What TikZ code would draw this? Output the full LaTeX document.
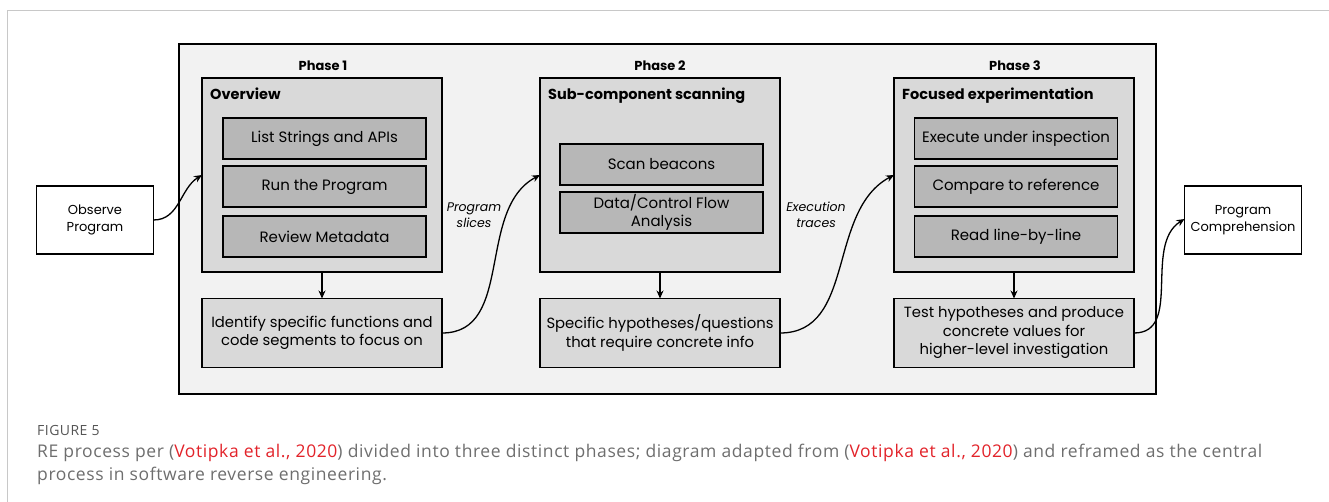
\documentclass[tikz,border=0pt]{standalone}
\usepackage{fontspec}
\setmainfont{Poppins}
\newfontfamily\capfont[LetterSpace=3.4]{Open Sans}
\usetikzlibrary{arrows.meta}
\definecolor{outerfill}{HTML}{F2F2F2}
\definecolor{phasefill}{HTML}{D9D9D9}
\definecolor{stepfill}{HTML}{B7B7B7}
\definecolor{capgray}{HTML}{6E6E6E}
\definecolor{figgray}{HTML}{555555}
\definecolor{citered}{HTML}{E2232A}
\definecolor{framegray}{HTML}{C8C8C8}
\newcommand{\citeref}[1]{(\textcolor{citered}{#1})}
\begin{document}
\begin{tikzpicture}[x=1pt,y=-1pt,
  box/.style={rectangle, draw=black, line width=1.4pt, inner sep=0pt, outer sep=0pt},
  phasebox/.style={box, fill=phasefill, minimum width=240pt, minimum height=194pt},
  stepbox/.style={box, fill=stepfill, minimum width=203pt, minimum height=41pt,
    align=center, font=\fontsize{15}{18}\selectfont},
  resultbox/.style={box, fill=phasefill, minimum width=240pt, minimum height=69pt,
    align=center, font=\fontsize{14.8}{18.5}\selectfont},
  endbox/.style={box, fill=white, minimum width=117pt, minimum height=68pt,
    align=center, font=\fontsize{13}{17}\selectfont},
  phaselabel/.style={font=\bfseries\fontsize{13}{15}\selectfont, inner sep=0pt},
  header/.style={font=\bfseries\fontsize{14.5}{17}\selectfont, inner sep=0pt, anchor=base west},
  flowlabel/.style={font=\itshape\fontsize{12.5}{15.5}\selectfont, align=center, inner sep=0pt},
  link/.style={line width=1.3pt, -{Stealth[length=8pt,width=7pt]}},
  captext/.style={font=\capfont\fontsize{17.5}{21}\selectfont, text=capgray, anchor=base west, inner sep=0pt}
]
\useasboundingbox (0,0) rectangle (1329,502);
% page rule
\draw[framegray, line width=1pt] (1329,11) -- (7,11) -- (7,502);

% enclosing panel
\node[box, fill=outerfill, minimum width=977pt, minimum height=350pt] (panel) at (667.5,219) {};

% phase titles
\node[phaselabel] (p1) at (323,66) {Phase 1};
\node[phaselabel] (p2) at (660,66) {Phase 2};
\node[phaselabel] (p3) at (1015,66) {Phase 3};

% phase 1
\node[phasebox] (ov) at (322,175) {};
\node[header] (ovt) at (210,100) {Overview};
\node[stepbox] (s11) at (324.5,138.5) {List Strings and APIs};
\node[stepbox] (s12) at (324.5,186.5) {Run the Program};
\node[stepbox] (s13) at (324.5,236.5) {Review Metadata};
\node[resultbox] (r1) at (322,333) {Identify specific functions and\\code segments to focus on};

% phase 2
\node[phasebox] (sc) at (660,175) {};
\node[header] (sct) at (548,100) {Sub-component scanning};
\node[stepbox] (s21) at (661.5,164.5) {Scan beacons};
\node[stepbox] (s22) at (661.5,212.5) {Data/Control Flow\\Analysis};
\node[resultbox] (r2) at (660,333) {Specific hypotheses/questions\\that require concrete info};

% phase 3
\node[phasebox] (fe) at (1014,175) {};
\node[header] (fet) at (902,100) {Focused experimentation};
\node[stepbox] (s31) at (1016,138.5) {Execute under inspection};
\node[stepbox] (s32) at (1016,186.5) {Compare to reference};
\node[stepbox] (s33) at (1016,236.5) {Read line-by-line};
\node[resultbox] (r3) at (1014,333) {Test hypotheses and produce\\concrete values for\\higher-level investigation};

% start and end
\node[endbox] (obs) at (95,220) {Observe\\Program};
\node[endbox] (pc) at (1243,220) {Program\\Comprehension};

% connectors
\draw[link] (obs.east) to[out=0, in=212] (ov.west);
\draw[link] (ov.south) -- (r1.north);
\draw[link] (sc.south) -- (r2.north);
\draw[link] (fe.south) -- (r3.north);
\draw[link] (r1.east) to[out=0, in=208] (sc.west);
\draw[link] (r2.east) to[out=0, in=208] (fe.west);
\draw[link] (r3.east) to[out=0, in=212] ([yshift=1pt]pc.west);

\node[flowlabel] (l1) at (474,215) {Program\\slices};
\node[flowlabel] (l2) at (816,215) {Execution\\traces};

% caption
\node[captext, font=\capfont\fontsize{14}{16}\selectfont, text=figgray] (fig) at (37,435) {FIGURE 5};
\node[captext] (cap1) at (37,457) {RE process per \citeref{Votipka et al., 2020} divided into three distinct phases; diagram adapted from \citeref{Votipka et al., 2020} and reframed as the central};
\node[captext] (cap2) at (37,480) {process in software reverse engineering.};
\end{tikzpicture}
\end{document}
